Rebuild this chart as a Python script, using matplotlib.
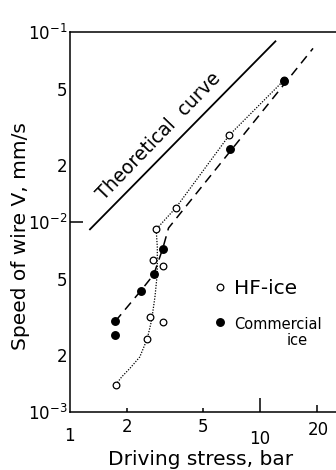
import numpy as np
import matplotlib
matplotlib.use("Agg")
import matplotlib.pyplot as plt
from matplotlib.lines import Line2D

plt.rcParams['font.family'] = ['DejaVu Sans']
plt.rcParams['mathtext.fontset'] = 'dejavusans'

# HF-ice (open circles)
hf_x = [1.74, 2.55, 2.64, 3.07, 2.72, 3.10, 2.84, 3.61, 6.9, 13.4]
hf_y = [1.39e-3, 2.43e-3, 3.16e-3, 2.97e-3, 6.3e-3, 5.87e-3, 9.15e-3, 1.19e-2, 2.87e-2, 5.59e-2]

# commercial ice (filled circles)
com_x = [1.73, 1.73, 2.36, 2.76, 3.07, 6.95, 13.4]
com_y = [2.55e-3, 3.0e-3, 4.35e-3, 5.3e-3, 7.2e-3, 2.41e-2, 5.5e-2]

# dotted curve drawn through HF-ice
dot_x = [1.74, 1.87, 2.07, 2.33, 2.55, 2.69, 2.80, 2.88, 2.88, 2.84, 3.61, 6.9, 13.4]
dot_y = [1.39e-3, 1.53e-3, 1.70e-3, 1.95e-3, 2.43e-3, 3.05e-3, 4.05e-3, 5.37e-3, 7.4e-3, 9.15e-3,
         1.19e-2, 2.87e-2, 5.59e-2]

# dashed line through commercial ice
dash_x = [1.73, 2.36, 2.76, 3.07, 3.3, 19.0]
dash_y = [3.0e-3, 4.35e-3, 5.3e-3, 7.2e-3, 9.3e-3, 8.2e-2]

# theoretical curve
theo_x = [1.264, 12.14]
theo_y = [9.08e-3, 9.0e-2]

xticks = [1, 2, 5, 10, 20]
yticks = [1e-3, 2e-3, 5e-3, 1e-2, 2e-2, 5e-2, 1e-1]
ylabels = ['$10^{-3}$', '2', '5', '$10^{-2}$', '2', '5', '$10^{-1}$']

fig = plt.figure(figsize=(3.36, 4.70), dpi=100)
ax = fig.add_axes([70 / 336, 58 / 470, 266 / 336, 380 / 470])
ax.set_xscale('log')
ax.set_yscale('log')
ax.set_xlim(1, 25.1)
ax.set_ylim(1e-3, 1e-1)

ax.plot(theo_x, theo_y, color='black', lw=1.3, solid_capstyle='butt')
ax.plot(dot_x, dot_y, color='black', lw=0.9, ls=(0, (1, 1.2)))
ax.plot(dash_x, dash_y, color='black', lw=1.1, ls=(0, (6, 4)))
ax.plot(hf_x, hf_y, 'o', ms=4.8, mfc='white', mec='black', mew=0.9, ls='none', zorder=4)
ax.plot(com_x, com_y, 'o', ms=5.4, mfc='black', mec='black', ls='none', zorder=5)

ax.text(0.335, 0.725, 'Theoretical  curve', transform=ax.transAxes, rotation=46,
        fontsize=13.5, ha='center', va='center', rotation_mode='anchor')

for s in ['left', 'bottom', 'top']:
    ax.spines[s].set_linewidth(1.1)
ax.spines['right'].set_visible(False)

ax.minorticks_off()
ax.set_xticks(xticks)
ax.set_xticklabels(['', '2', '5', '', ''])
ax.set_yticks(yticks)
ax.set_yticklabels(ylabels)
ax.tick_params(axis='both', direction='in', labelsize=12, width=1.1)
ax.tick_params(axis='x', pad=4)
ax.tick_params(axis='y', pad=2)
ax.xaxis.set_minor_locator(matplotlib.ticker.NullLocator())
ax.yaxis.set_minor_locator(matplotlib.ticker.NullLocator())

xlen = [0, 3, 3, 10, 5]
for t, L in zip(ax.xaxis.get_major_ticks(), xlen):
    t.tick1line.set_markersize(L)
    t.tick2line.set_visible(False)
ylen = [0, 0, 0, 9, 0, 0, 0]
for t, L in zip(ax.yaxis.get_major_ticks(), ylen):
    t.tick1line.set_markersize(L)
    t.tick2line.set_visible(False)

trans = matplotlib.transforms.blended_transform_factory(ax.transData, ax.transAxes)
ax.text(0.99, -0.063, '1', transform=trans, fontsize=12, ha='center', va='center')
ax.text(9.9, -0.071, '10', transform=trans, fontsize=12, ha='center', va='center')
ax.text(20.3, -0.047, '20', transform=trans, fontsize=12, ha='center', va='center')

ax.set_ylabel('Speed of wire V, mm/s', fontsize=14.5)
ax.yaxis.set_label_coords(-0.15, 0.463)
ax.set_xlabel('Driving stress, bar', fontsize=14.5)
ax.xaxis.set_label_coords(0.49, -0.10)

handles = [
    Line2D([], [], marker='o', ms=4.8, mfc='white', mec='black', mew=0.9, ls='none'),
    Line2D([], [], marker='o', ms=5.4, mfc='black', mec='black', ls='none'),
]
leg = ax.legend(handles, ['HF-ice', 'Commercial'], loc='upper left',
                bbox_to_anchor=(0.545, 0.35), frameon=False, fontsize=14.5, handlelength=0.5,
                handletextpad=0.45, labelspacing=0.85, borderpad=0, borderaxespad=0)
leg.get_texts()[1].set_fontsize(10.5)
ax.text(0.853, 0.189, 'ice', transform=ax.transAxes, fontsize=10.5, ha='center', va='center')

fig.savefig('out.png', dpi=100)
